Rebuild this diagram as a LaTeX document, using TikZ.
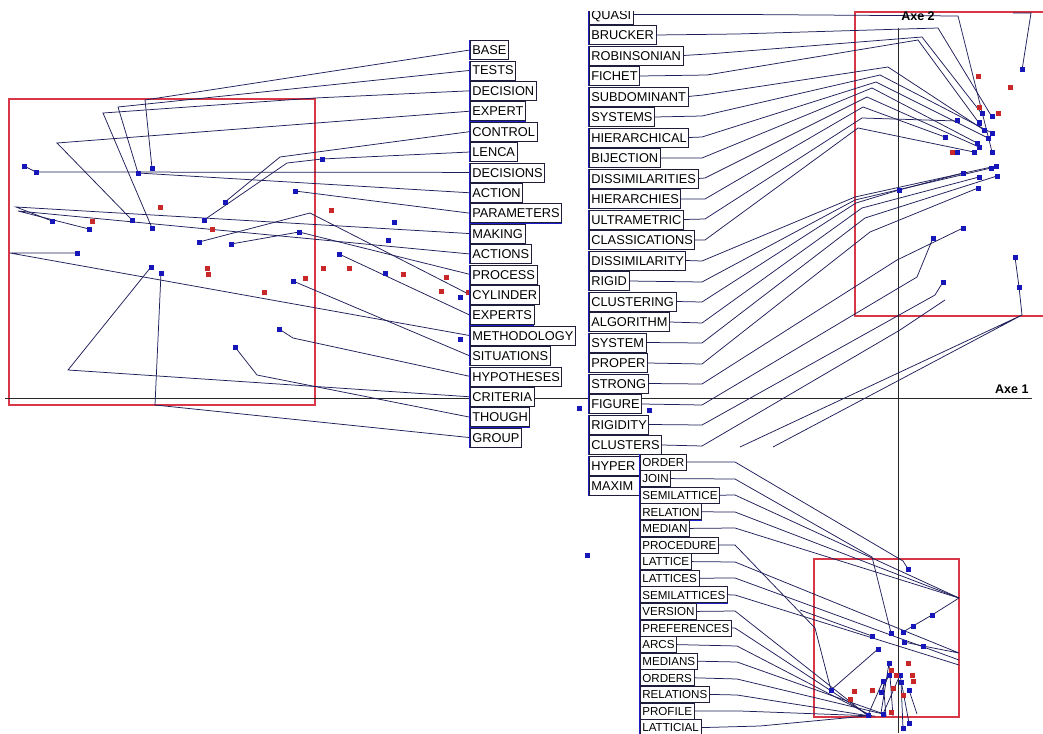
\documentclass[tikz,border=0pt]{standalone}
\usepackage{fontspec}
\newfontfamily\lf{Liberation Sans}
\pgfdeclarelayer{bg}
\pgfsetlayers{bg,main}
\definecolor{lnc}{RGB}{30,30,90}
\definecolor{bpc}{RGB}{22,22,185}
\definecolor{rpc}{RGB}{200,40,40}
\definecolor{rectc}{RGB}{215,55,70}
\definecolor{boxc}{RGB}{30,30,60}
\definecolor{boxb}{RGB}{30,30,200}
\definecolor{axc}{RGB}{40,40,40}
\tikzset{
  ln/.style={draw=lnc,line width=0.75pt},
  bsq/.style={fill=bpc,inner sep=0pt,minimum size=5pt,draw=none,rectangle},
  rsq/.style={fill=rpc,inner sep=0pt,minimum size=5pt,draw=none,rectangle},
  labbase/.style={draw=boxc,fill=white,line width=0.7pt,inner xsep=2pt,inner ysep=0pt,
    text depth=0pt,anchor=west,
    append after command={\pgfextra{\draw[boxb,line width=1.1pt] (\tikzlastnode.north west) -- (\tikzlastnode.south west) -- (\tikzlastnode.south east);}}},
  labA/.style={labbase,font=\lf\fontsize{12.8}{14}\selectfont,text height=9.2pt,minimum height=19pt},
  labC/.style={labbase,font=\lf\fontsize{11.6}{13}\selectfont,text height=8.4pt,minimum height=16pt},
  frame/.style={draw=rectc,line width=1.1pt},
  axis/.style={draw=axc,line width=1pt}
}
\begin{document}
\begin{tikzpicture}[x=1pt,y=-1pt]
\useasboundingbox (0,0) rectangle (1043,733);
% ---------- labels ----------
\foreach \t [count=\i from 0] in {BASE,TESTS,DECISION,EXPERT,CONTROL,LENCA,DECISIONS,ACTION,PARAMETERS,MAKING,ACTIONS,PROCESS,CYLINDER,EXPERTS,METHODOLOGY,SITUATIONS,HYPOTHESES,CRITERIA,THOUGH,GROUP}
  \node[labA] (A\i) at (470,{50+20.4*\i}) {\t};
\foreach \t [count=\i from 0] in {QUASI,BRUCKER,ROBINSONIAN,FICHET,SUBDOMINANT,SYSTEMS,HIERARCHICAL,BIJECTION,DISSIMILARITIES,HIERARCHIES,ULTRAMETRIC,CLASSICATIONS,DISSIMILARITY,RIGID,CLUSTERING,ALGORITHM,SYSTEM,PROPER,STRONG,FIGURE,RIGIDITY,CLUSTERS}
  \node[labA] (B\i) at (589,{14.5+20.5*\i}) {\t};
\node[labA,text width=58pt,align=left] (B22) at (589,{14.5+20.5*22}) {HYPER};
\node[labA,text width=58pt,align=left] (B23) at (589,{14.5+20.5*23}) {MAXIM};
\foreach \t [count=\i from 0] in {ORDER,JOIN,SEMILATTICE,RELATION,MEDIAN,PROCEDURE,LATTICE,LATTICES,SEMILATTICES,VERSION,PREFERENCES,ARCS,MEDIANS,ORDERS,RELATIONS,PROFILE,LATTICIAL}
  \node[labC] (C\i) at (640,{462+16.6*\i}) {\t};
\node[font=\lf\bfseries\fontsize{12.5}{14}\selectfont,anchor=base east] (ax1) at (1032,393) {Axe 1};
\node[font=\lf\bfseries\fontsize{12.5}{14}\selectfont,anchor=base] (ax2) at (918,21) {Axe 2};
\fill[white] (0,0) rectangle (1043,11);
\begin{pgfonlayer}{bg}
\fill[white] (0,0) rectangle (1043,733);
% frames and axes
\draw[frame] (9,99) rectangle (315,405);
\draw[frame] (855,12) rectangle (1046,316);
\draw[frame] (814,559) rectangle (959,717);
\coordinate (hx0) at (5,398); \coordinate (hx1) at (1032,398);
\coordinate (vy0) at (898,28); \coordinate (vy1) at (898,733);
\draw[axis] (hx0) -- (hx1);
\draw[axis] (vy0) -- (vy1);
% ---------- points ----------
\foreach \n/\x/\y in {a0/24/166,a1/36/172,a2/152/168,a3/138/173,a4/322/159,a5/295/191,a6/225/202,a7/204/220,a8/132/220,a9/152/228,a10/52/221,a11/89/229,a12/77/253,a13/151/267,a14/161/273,a15/199/242,a16/231/244,a17/299/232,a18/388/240,a19/394/222,a20/339/254,a21/385/273,a22/293/281,a23/460/297,a24/460/339,a25/279/329,a26/235/347,m0/579/408,m1/649/410,m2/587/555}
  \coordinate (\n) at (\x,\y);
\foreach \n/\x/\y in {t0/1022/70,t1/982/114,t2/992/117,t3/957/121,t4/979/123,t5/984/130,t6/992/133,t7/988/138,t8/945/137,t9/977/143,t10/979/147,t11/974/152,t12/957/152,t13/992/152,t14/996/166,t15/991/168,t16/963/173,t17/979/177,t18/997/176,t19/978/188,t20/899/190,t21/963/228,t22/933/238,t23/943/282,t24/1015/257,t25/1019/287}
  \coordinate (\n) at (\x,\y);
\foreach \n/\x/\y in {u0/908/569,u1/932/615,u2/913/626,u3/903/632,u4/891/633,u5/872/636,u6/904/642,u7/923/646,u8/878/649,u9/889/663,u10/889/675,u11/900/675,u12/883/681,u13/901/682,u14/881/692,u15/909/690,u16/831/690,u17/868/715,u18/883/714,u19/909/723,u20/903/728}
  \coordinate (\n) at (\x,\y);
% ---------- connectors: column A ----------
\draw[ln] (A0.west) -- (145,100) -- (a2);
\draw[ln] (A1.west) -- (118,107) -- (a3);
\draw[ln] (A2.west) -- (315,98) -- (103,113) -- (a9);
\draw[ln] (A3.west) -- (57,143) -- (a8);
\draw[ln] (A4.west) -- (280,157) -- (a6);
\draw[ln] (A5.west) -- (a4) -- (287,163) -- (a7);
\draw[ln] (A6.west) -- (a1) -- (a0);
\draw[ln] (A7.west) -- (a3);
\draw[ln] (A8.west) -- (a5);
\draw[ln] (A9.west) -- (16,207) -- (a10);
\draw[ln] (A10.west) -- (18,211) -- (a11);
\draw[ln] (A11.west) -- (a17) -- (a16);
\draw[ln] (A12.west) -- (310,213) -- (a15);
\draw[ln] (A13.west) -- (a20);
\draw[ln] (A14.west) -- (10,253) -- (a12);
\draw[ln] (A15.west) -- (a22);
\draw[ln] (A16.west) -- (293,338) -- (a25);
\draw[ln] (A17.west) -- (68,370) -- (a13);
\draw[ln] (A18.west) -- (257,375) -- (a26);
\draw[ln] (A19.west) -- (155,405) -- (a14);
% ---------- connectors: column B (upper) ----------
\draw[ln] (B0.east) -- (745,14.5) -- (958,16) -- (t13);
\draw[ln] (B1.east) -- (737,34) -- (938,28) -- (t2);
\draw[ln] (B2.east) -- (708,54) -- (922,37) -- (t1);
\draw[ln] (B3.east) -- (707,75) -- (918,40) -- (t4);
\draw[ln] (B4.east) -- (703,95) -- (888,67) -- (t5);
\draw[ln] (B5.east) -- (702,116) -- (880,75) -- (t6);
\draw[ln] (B6.east) -- (702,137) -- (876,82) -- (t7);
\draw[ln] (B7.east) -- (702,158) -- (872,88) -- (t9);
\draw[ln] (B8.east) -- (705,178) -- (867,97) -- (t10);
\draw[ln] (B9.east) -- (705,199) -- (863,107) -- (t8);
\draw[ln] (B10.east) -- (705,219) -- (862,118) -- (t3);
\draw[ln] (B11.east) -- (705,240) -- (858,128) -- (t11);
% ---------- connectors: column B (lower) ----------
\draw[ln] (B12.east) -- (702,261) -- (855,197) -- (t14);
\draw[ln] (B13.east) -- (702,282) -- (855,200) -- (t15);
\draw[ln] (B14.east) -- (702,302) -- (856,203) -- (t20) -- (t16);
\draw[ln] (B15.east) -- (702,323) -- (862,208) -- (t17);
\draw[ln] (B16.east) -- (702,343) -- (865,218) -- (t18);
\draw[ln] (B17.east) -- (702,364) -- (870,232) -- (t19);
\draw[ln] (B18.east) -- (702,384) -- (897,260) -- (t21);
\draw[ln] (B19.east) -- (702,405) -- (917,277) -- (t22);
\draw[ln] (B20.east) -- (702,425) -- (935,295) -- (t23);
\coordinate (f0) at (945,300);
\draw[ln] (B21.east) -- (702,446) -- (900,330) -- (f0);
\coordinate (tc) at (1022,315);
\coordinate (f1) at (740,447); \coordinate (f2) at (773,447);
\draw[ln] (f1) -- (tc) -- (f2);
\draw[ln] (tc) -- (t25) -- (t24);
\coordinate (f3) at (1013,13); \coordinate (f4) at (1031,13);
\draw[ln] (f3) -- (f4) -- (t0);
% ---------- connectors: column C ----------
\draw[ln] (C0.east) -- (735,462) -- (903,561) -- (u0);
\draw[ln] (C1.east) -- (735,479) -- (872,557) -- (u4);
\draw[ln] (C2.east) -- (735,495) -- (959,598);
\draw[ln] (C3.east) -- (735,512) -- (959,598);
\draw[ln] (C4.east) -- (735,528) -- (959,598) -- (u1) -- (u2) -- (u3);
\draw[ln] (C5.east) -- (735,545) -- (815,628) -- (u16) -- (u8);
\draw[ln] (C6.east) -- (735,562) -- (959,653) -- (u7) -- (u6);
\draw[ln] (C7.east) -- (735,578) -- (959,660);
\draw[ln] (C8.east) -- (735,595) -- (959,665);
\draw[ln] (C9.east) -- (735,611) -- (867,715);
\draw[ln] (C10.east) -- (735,628) -- (u17);
\draw[ln] (C11.east) -- (737,646) -- (872,716);
\draw[ln] (C12.east) -- (737,662) -- (881,713) -- (u9) -- (893,716);
\draw[ln] (C13.east) -- (737,679) -- (u18) -- (u11) -- (u19);
\draw[ln] (C14.east) -- (737,695) -- (870,716);
\draw[ln] (C15.east) -- (740,711) -- (875,716);
\draw[ln] (C16.east) -- (760,726) -- (866,716);
\draw[ln] (u17) -- (u12) -- (886,716);
\draw[ln] (u15) -- (917,714);
\draw[ln] (u13) -- (u20);
\draw[ln] (u14) -- (u10);
\draw[ln] (u5) -- (800,610);
% ---------- point squares ----------
\foreach \p in {a0,a1,a2,a3,a4,a5,a6,a7,a8,a9,a10,a11,a12,a13,a14,a15,a16,a17,a18,a19,a20,a21,a22,a23,a24,a25,a26,m0,m1,m2,t0,t1,t2,t3,t4,t5,t6,t7,t8,t9,t10,t11,t12,t13,t14,t15,t16,t17,t18,t19,t20,t21,t22,t23,t24,t25,u0,u1,u2,u3,u4,u5,u6,u7,u8,u9,u10,u11,u12,u13,u14,u15,u16,u17,u18,u19,u20}
  \node[bsq] at (\p) {};
\foreach \x/\y in {160/207,92/221,212/229,331/210,207/268,208/274,264/292,305/278,323/268,349/268,403/274,446/277,441/291,468/292,1010/88,978/77,979/108,998/114,952/152,908/663,891/670,896/675,912/675,913/681,893/688,872/690,854/691,850/699,903/695,891/712}
  \node[rsq] at (\x,\y) {};
\end{pgfonlayer}
\end{tikzpicture}
\end{document}
